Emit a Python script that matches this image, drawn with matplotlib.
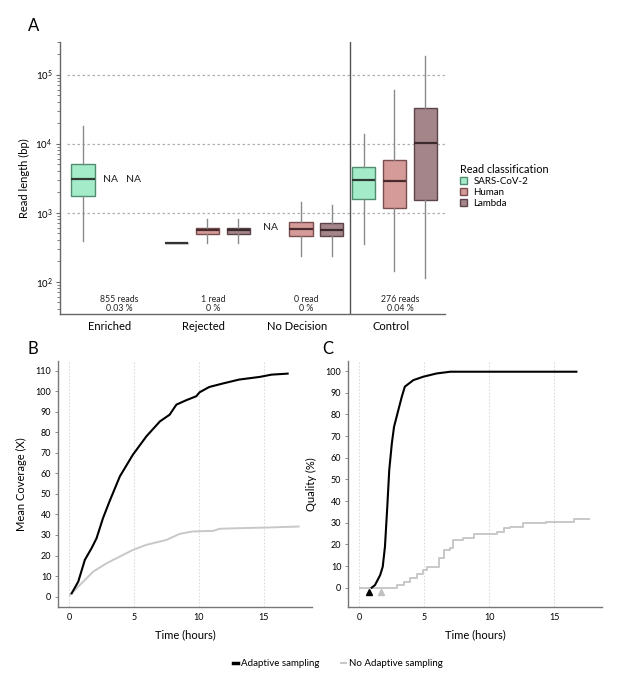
import numpy as np
import matplotlib
matplotlib.use("Agg")
import matplotlib.pyplot as plt
from matplotlib.patches import Patch
from matplotlib.lines import Line2D
from matplotlib.ticker import LogLocator, LogFormatterMathtext, NullFormatter

plt.rcParams['font.family'] = ['Lato', 'DejaVu Sans']

# ---- Panel A data: read length box stats (bp) ----
categories = ['Enriched', 'Rejected', 'No Decision', 'Control']
classes = ['SARS-CoV-2', 'Human', 'Lambda']
# one row per category, one column per class; None = NA
whislo = [[393, None, None], [367, 359, 359], [None, 234, 238], [352, 143, 112]]
q1 = [[1760, None, None], [367, 487, 487], [None, 465, 455], [1585, 1180, 1550]]
med = [[3100, None, None], [367, 562, 562], [None, 586, 556], [2980, 2900, 10100]]
q3 = [[5080, None, None], [367, 604, 604], [None, 733, 709], [4550, 5750, 32600]]
whishi = [[18000, None, None], [367, 813, 813], [None, 1430, 1290], [13800, 60000, 187000]]
read_counts = ['855 reads\n0.03 %', '1 read\n0 %', '0 read\n0 %', '276 reads\n0.04 %']

# ---- Panel B data: mean coverage over time ----
b_adapt_t = [0.18, 0.69, 1.2, 1.72, 2.1, 2.6, 3.1, 3.9, 4.9, 5.95, 7.0, 7.74, 8.26, 9.0, 9.8,
             10.05, 10.8, 11.85, 13.1, 14.7, 15.6, 16.85]
b_adapt_y = [1.6, 7.3, 17.9, 23.6, 28.4, 38.2, 46.3, 58.5, 69.0, 78.0, 85.3, 88.5, 93.4, 95.5, 97.5,
             99.4, 102.0, 103.7, 105.6, 106.9, 108.0, 108.5]
b_noad_t = [0.05, 0.82, 1.85, 2.87, 3.9, 4.9, 5.95, 7.5, 8.5, 9.5, 11.1, 11.6, 13.1, 15.2, 17.7]
b_noad_y = [0.8, 5.7, 12.2, 16.2, 19.5, 22.7, 25.2, 27.6, 30.5, 31.7, 32.0, 33.0, 33.3, 33.6, 34.1]

# ---- Panel C data: quality over time ----
c_adapt_t = [0.95, 1.2, 1.6, 1.8, 1.97, 2.15, 2.3, 2.5, 2.67, 3.0, 3.26, 3.5, 4.15, 4.92,
             5.95, 7.0, 16.7]
c_adapt_y = [0.0, 1.2, 5.8, 9.7, 18.9, 37.4, 54.3, 66.6, 74.3, 82.0, 88.0, 92.8, 95.8, 97.4,
             98.9, 99.7, 99.7]
c_noad_t = [0.05, 2.56, 2.87, 3.4, 3.9, 4.4, 4.9, 5.2, 5.8, 6.1, 6.5, 7.0, 7.2, 8.0, 8.8, 10.6,
            11.1, 11.6, 12.6, 14.4, 16.2, 16.5, 17.7]
c_noad_y = [0.0, 0.0, 1.2, 2.8, 4.3, 6.2, 8.2, 9.7, 9.7, 13.5, 17.4, 18.2, 22.0, 22.8, 25.0, 25.8,
            27.4, 28.2, 29.7, 30.2, 30.5, 31.5, 31.5]
start_t = [0.77, 1.64]  # time of first detection (triangles)

fills = ['#a4ebc9', '#d49b99', '#a4858a']
edges = ['#4f8c70', '#7a4e4f', '#5c4448']
medc = ['#2f3a35', '#4a2a2c', '#3a2a2e']
gridc = '#b0b0b0'

fig = plt.figure(figsize=(6.27, 6.8), dpi=100)

# ================= Panel A =================
axA = fig.add_axes([0.0949, 0.5382, 0.6148, 0.4005])
dodge = 0.33
width = 0.25
for i, cat in enumerate(categories):
    for j, cls in enumerate(classes):
        pos = i + 1 + (j - 1) * dodge
        if med[i][j] is None:
            continue
        flat = q1[i][j] == q3[i][j]
        st = dict(whislo=whislo[i][j], q1=q1[i][j], med=med[i][j],
                  q3=q3[i][j], whishi=whishi[i][j], fliers=[])
        axA.bxp([st], positions=[pos], widths=width, showfliers=False, showcaps=False,
                patch_artist=True,
                boxprops=dict(facecolor=fills[j], edgecolor='#333333' if flat else edges[j],
                              linewidth=1.0),
                medianprops=dict(color='#333333' if flat else medc[j], linewidth=1.6),
                whiskerprops=dict(color='#8a8a8a', linewidth=1.0))

# NA labels
for i, cat in enumerate(categories):
    for j, cls in enumerate(classes):
        if med[i][j] is None:
            xpos = i + 1 + (j - 1) * dodge
            if i == 0:
                xpos = i + 1 + (j - 1) * 0.24 - 0.03
            axA.text(xpos, 3000 if i == 0 else 600, 'NA', ha='center', va='center',
                     fontsize=7.5, color='#222222')

for i, txt in enumerate(read_counts):
    axA.text(i + 1 + 0.06, 47, txt, ha='center', va='center', fontsize=6.3,
             linespacing=1.0, color='#222222')

axA.set_yscale('log')
axA.set_ylim(34, 3e5)
axA.set_xlim(0.42, 4.54)
for v in [1e3, 1e4, 1e5]:
    axA.axhline(v, xmin=0.02, color=gridc, linestyle=(0, (2, 2)), linewidth=0.9, zorder=0)
axA.axvline(3.52, color='#555555', linewidth=1.0)
axA.yaxis.set_major_locator(LogLocator(base=10, numticks=10))
axA.yaxis.set_major_formatter(LogFormatterMathtext())
axA.yaxis.set_minor_locator(LogLocator(base=10, subs=np.arange(2, 10), numticks=20))
axA.yaxis.set_minor_formatter(NullFormatter())
axA.tick_params(axis='y', which='major', length=3, width=0.8, color='#666666',
                labelsize=7, pad=2)
axA.tick_params(axis='y', which='minor', length=2, width=0.6, color='#666666')
axA.set_xticks(np.arange(1, len(categories) + 1) - 0.04)
axA.set_xticklabels(categories, fontsize=8)
axA.tick_params(axis='x', length=0, pad=5)
for s in ['top', 'right']:
    axA.spines[s].set_visible(False)
for s in ['left', 'bottom']:
    axA.spines[s].set_color('#666666')
    axA.spines[s].set_linewidth(1.0)
axA.set_ylabel('Read length (bp)', fontsize=8, labelpad=4)

handles = [Patch(facecolor=fills[j], edgecolor=edges[j], label=classes[j]) for j in range(3)]
leg = axA.legend(handles=handles, title='Read classification', loc='upper left',
                 bbox_to_anchor=(0.727, 0.765), bbox_transform=fig.transFigure,
                 frameon=False, fontsize=7, title_fontsize=7.8, handlelength=0.8,
                 handleheight=0.7, labelspacing=0.2, handletextpad=0.6, borderaxespad=0)
leg._legend_box.align = 'left'

fig.text(0.054, 0.962, 'A', fontsize=12, ha='center', va='center')


# ================= Panels B & C =================
def style_time_axis(ax):
    for s in ['top', 'right']:
        ax.spines[s].set_visible(False)
    for s in ['left', 'bottom']:
        ax.spines[s].set_color('#777777')
        ax.spines[s].set_linewidth(1.0)
    ax.set_xticks([0, 5, 10, 15])
    ax.grid(axis='x', color='#dcdcdc', linestyle=(0, (1.5, 1.5)), linewidth=0.8)
    ax.set_axisbelow(True)
    ax.tick_params(axis='x', length=0, labelsize=6.5, pad=4)
    ax.tick_params(axis='y', length=2, width=0.6, color='#777777', labelsize=6.5, pad=3)
    ax.set_xlabel('Time (hours)', fontsize=8, labelpad=5)


axB = fig.add_axes([0.093, 0.1069, 0.404, 0.3627])
axB.plot(b_noad_t, b_noad_y, color='#c8c8c8', linewidth=1.4)
axB.plot(b_adapt_t, b_adapt_y, color='black', linewidth=1.5)
axB.set_xlim(-0.85, 18.7)
axB.set_ylim(-5.2, 114.8)
axB.set_yticks(np.arange(0, 111, 10))
style_time_axis(axB)
axB.set_ylabel('Mean Coverage (X)', fontsize=8, labelpad=6)
fig.text(0.053, 0.487, 'B', fontsize=12, ha='center', va='center')

axC = fig.add_axes([0.5555, 0.1069, 0.4042, 0.3627])
axC.plot(c_noad_t, c_noad_y, color='#c8c8c8', linewidth=1.4, drawstyle='steps-post')
axC.plot(c_adapt_t, c_adapt_y, color='black', linewidth=1.5)
axC.plot(start_t[0], -1.8, marker='^', color='black', markersize=5, linestyle='none')
axC.plot(start_t[1], -1.8, marker='^', color='#c0c0c0', markersize=5, linestyle='none')
axC.set_xlim(-0.85, 18.65)
axC.set_ylim(-9.05, 104.8)
axC.set_yticks(np.arange(0, 101, 10))
style_time_axis(axC)
axC.set_ylabel('Quality (%)', fontsize=8, labelpad=6)
fig.text(0.523, 0.487, 'C', fontsize=12, ha='center', va='center')

leg_handles = [Line2D([], [], color='black', linewidth=2.5, label='Adaptive sampling'),
               Line2D([], [], color='#c8c8c8', linewidth=1.5, label='No Adaptive sampling')]
fig.legend(handles=leg_handles, loc='center', bbox_to_anchor=(0.539, 0.024), ncol=2,
           frameon=False, fontsize=7, handlelength=0.5, handletextpad=0.3, columnspacing=2.2)

fig.savefig('out.png', dpi=100, facecolor='white')
